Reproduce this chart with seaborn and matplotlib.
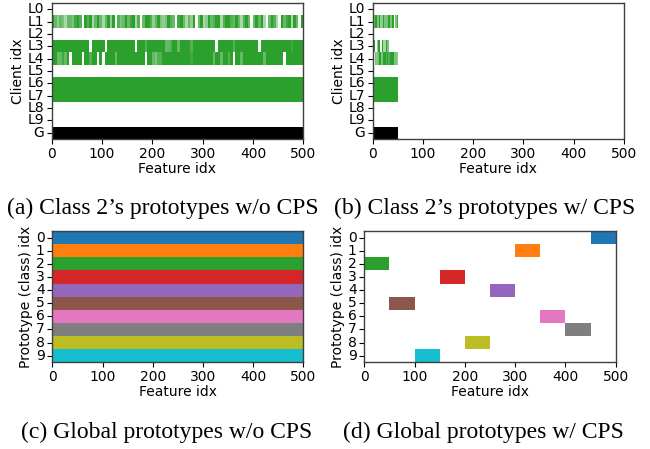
import numpy as np
import matplotlib
matplotlib.use("Agg")
import matplotlib.pyplot as plt
from matplotlib.colors import ListedColormap, to_rgb
import seaborn as sns

# ---------------- data ----------------
client_labels = ["L0", "L1", "L2", "L3", "L4", "L5", "L6", "L7", "L8", "L9", "G"]
proto_labels = [str(i) for i in range(10)]
n_features = 500
cps_features = 50

# panel (a): intensity 0-9 per block of 5 features (100 blocks)
l1_a = ("9646536658" "9709793696" "3694907569" "6893706997" "4695459760"
        "8963649069" "3496799379" "9769637960" "6969306973" "0968939609")
l3_a = ("9999999999" "9999909999" "9099999999" "9990999799" "9999966799"
        "6999979999" "9999909999" "9979999999" "9909999999" "9999989999")
l4_a = ("9966869099" "9909979909" "0999969999" "9999999099" "6577999999"
        "9999989999" "9999699699" "7909969999" "9999699999" "9909999999")
# panel (b): intensity 0-9 per feature for the first 50 features
l1_b = "99955999555559944444499555555559995555599900055588"
l3_b = "59990000444999000099930303999555" + "0" * 18
l4_b = "0000556455659999554559999997799797799999995555455" + "4"
full_rows = ["L6", "L7"]

# panels (c)/(d): prototype block start feature per class
proto_starts = [450, 300, 0, 150, 250, 50, 350, 400, 200, 100]
proto_width = 50

# ---------------- build matrices ----------------
def digits(s):
    return np.array([int(c) for c in s], dtype=float)

mat_a = np.zeros((11, n_features))
mat_a[1] = np.repeat(digits(l1_a), 5)
mat_a[3] = np.repeat(digits(l3_a), 5)
mat_a[4] = np.repeat(digits(l4_a), 5)
for r in full_rows:
    mat_a[client_labels.index(r)] = 9
mat_a[10] = 10

mat_b = np.zeros((11, n_features))
mat_b[1, :cps_features] = digits(l1_b)
mat_b[3, :cps_features] = digits(l3_b)
mat_b[4, :cps_features] = digits(l4_b)
for r in full_rows:
    mat_b[client_labels.index(r), :cps_features] = 9
mat_b[10, :cps_features] = 10

mat_c = np.repeat(np.arange(10, dtype=float)[:, None], n_features, axis=1)
mat_d = np.full((10, n_features), np.nan)
for k, s in enumerate(proto_starts):
    mat_d[k, s:s + proto_width] = k

# colormaps
g = np.array(to_rgb("#2ca02c"))
w = np.ones(3)
green_levels = [tuple(w + (g - w) * (i / 9) ** 0.8) for i in range(10)]
client_cmap = ListedColormap(green_levels + [(0, 0, 0)])
tab_cmap = ListedColormap(sns.color_palette("tab10", 10))

# ---------------- figure ----------------
fig = plt.figure(figsize=(6.5, 4.49), dpi=100)
fs = 10
ax_a = fig.add_axes([0.0795, 0.6904, 0.3871, 0.3029])
ax_b = fig.add_axes([0.5734, 0.6904, 0.3866, 0.3029])
ax_c = fig.add_axes([0.0805, 0.1931, 0.3862, 0.2924])
ax_d = fig.add_axes([0.5605, 0.1931, 0.3868, 0.2924])

def style(ax, ylabel, ylabels):
    ax.set_xticks(np.arange(0, 501, 100))
    ax.set_xticklabels([str(v) for v in range(0, 501, 100)], rotation=0, fontsize=fs)
    ax.set_yticks(np.arange(len(ylabels)) + 0.5)
    ax.set_yticklabels(ylabels, rotation=0, fontsize=fs, va="center")
    ax.set_xlabel("Feature idx", fontsize=fs, labelpad=1)
    ax.set_ylabel(ylabel, fontsize=fs, labelpad=2)
    ax.tick_params(length=3.5, width=0.8, pad=2)
    for sp in ax.spines.values():
        sp.set_visible(True)
        sp.set_color("0.25")
        sp.set_linewidth(1.0)

for ax, mat in [(ax_a, mat_a), (ax_b, mat_b)]:
    sns.heatmap(mat, ax=ax, cmap=client_cmap, vmin=-0.5, vmax=10.5, cbar=False,
                xticklabels=False, yticklabels=False)
    style(ax, "Client idx", client_labels)

sns.heatmap(mat_c, ax=ax_c, cmap=tab_cmap, vmin=-0.5, vmax=9.5, cbar=False,
            xticklabels=False, yticklabels=False)
style(ax_c, "Prototype (class) idx", proto_labels)
sns.heatmap(mat_d, ax=ax_d, cmap=tab_cmap, vmin=-0.5, vmax=9.5, cbar=False,
            xticklabels=False, yticklabels=False)
style(ax_d, "Prototype (class) idx", proto_labels)

cap_font = dict(family="Liberation Serif", fontsize=17, ha="center", va="center")
fig.text(163 / 650, 1 - 208 / 449, "(a) Class 2\u2019s prototypes w/o CPS", **cap_font)
fig.text(485 / 650, 1 - 208 / 449, "(b) Class 2\u2019s prototypes w/ CPS", **cap_font)
fig.text(167 / 650, 1 - 432 / 449, "(c) Global prototypes w/o CPS", **cap_font)
fig.text(483 / 650, 1 - 432 / 449, "(d) Global prototypes w/ CPS", **cap_font)

fig.savefig("out.png", dpi=100, facecolor="white")
